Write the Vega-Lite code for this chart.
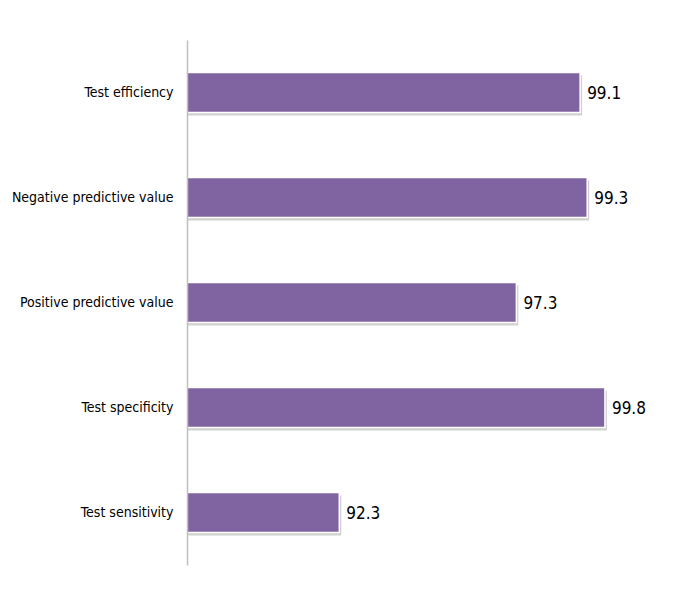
{
  "$schema": "https://vega.github.io/schema/vega-lite/v6.json",
  "width": 425,
  "height": 525,
  "autosize": {"type": "none"},
  "padding": {"left": 187, "top": 40, "right": 81, "bottom": 25},
  "background": "white",
  "config": {"view": {"stroke": null}, "font": "DejaVu Sans Condensed"},
  "data": {
    "values": [
      {"measure": "Test efficiency", "value": 99.1},
      {"measure": "Negative predictive value", "value": 99.3},
      {"measure": "Positive predictive value", "value": 97.3},
      {"measure": "Test specificity", "value": 99.8},
      {"measure": "Test sensitivity", "value": 92.3}
    ]
  },
  "encoding": {
    "y": {
      "field": "measure",
      "type": "nominal",
      "sort": null,
      "scale": {"paddingInner": 0.62, "paddingOuter": 0.31},
      "axis": {
        "title": null,
        "ticks": false,
        "labelPadding": 14,
        "labelFontSize": 14,
        "labelColor": "#000000",
        "labelFont": "DejaVu Sans Condensed",
        "domainColor": "#BFBFBF",
        "domainWidth": 1.5,
        "grid": false,
        "zindex": 1
      }
    },
    "x": {
      "field": "value",
      "type": "quantitative",
      "scale": {"domain": [88, 100], "zero": false, "nice": false},
      "axis": null
    }
  },
  "layer": [
    {
      "mark": {"type": "bar", "color": "#000000", "opacity": 0.18, "xOffset": 2, "yOffset": 3, "clip": false},
      "encoding": {"x2": {"datum": 88}}
    },
    {
      "mark": {"type": "bar", "color": "#8064A2", "stroke": "#FFFFFF", "strokeWidth": 1.5, "clip": false},
      "encoding": {"x2": {"datum": 88}}
    },
    {
      "mark": {"type": "text", "align": "left", "baseline": "middle", "dx": 7, "dy": 1, "fontSize": 17, "font": "DejaVu Sans Condensed", "color": "#000000"},
      "encoding": {"text": {"field": "value", "type": "quantitative", "format": ".1f"}}
    }
  ]
}
